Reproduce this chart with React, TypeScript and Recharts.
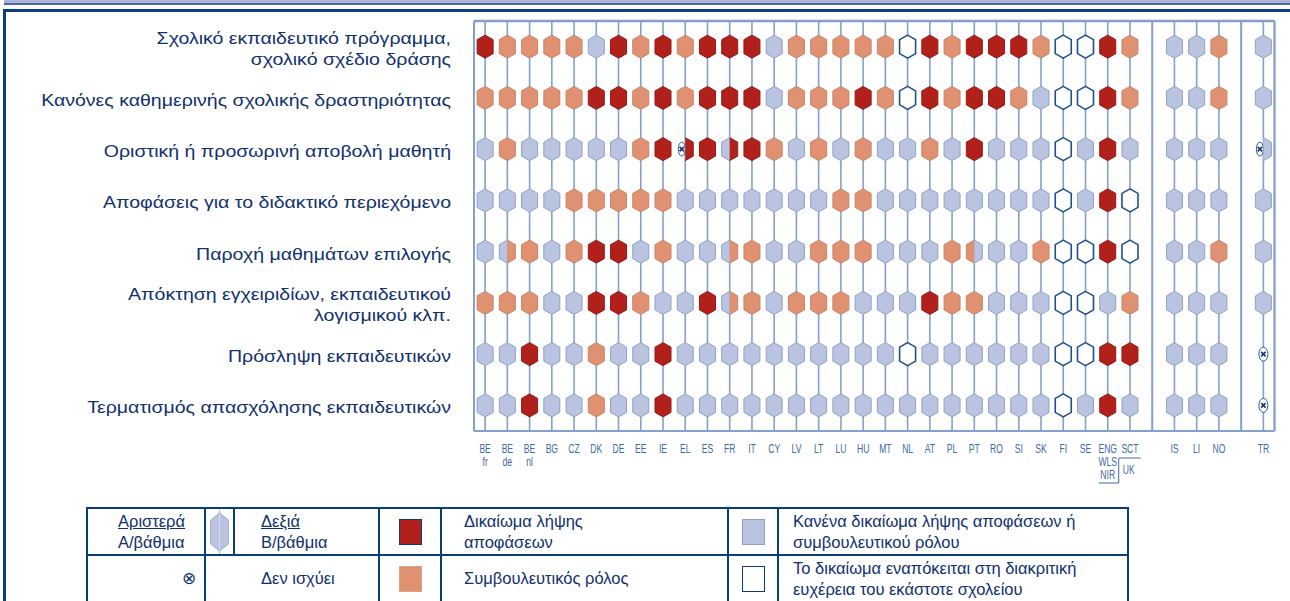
import React from "react";
import {
  ScatterChart,
  Scatter,
  XAxis,
  YAxis,
  CartesianGrid,
  ReferenceLine,
} from "recharts";

// x slots: "" marks the empty gap columns between country groups
const countries = [
  "BE fr", "BE de", "BE nl", "BG", "CZ", "DK", "DE", "EE", "IE", "EL",
  "ES", "FR", "IT", "CY", "LV", "LT", "LU", "HU", "MT", "NL",
  "AT", "PL", "PT", "RO", "SI", "SK", "FI", "SE", "ENG", "SCT",
  "", "IS", "LI", "NO", "", "TR",
];

const rowLabels = [
  ["Σχολικό εκπαιδευτικό πρόγραμμα,", "σχολικό σχέδιο δράσης"],
  ["Κανόνες καθημερινής σχολικής δραστηριότητας"],
  ["Οριστική ή προσωρινή αποβολή μαθητή"],
  ["Αποφάσεις για το διδακτικό περιεχόμενο"],
  ["Παροχή μαθημάτων επιλογής"],
  ["Απόκτηση εγχειριδίων, εκπαιδευτικού", "λογισμικού κλπ."],
  ["Πρόσληψη εκπαιδευτικών"],
  ["Τερματισμός απασχόλησης εκπαιδευτικών"],
];

// D = decision, A = advisory, N = none, S = school discretion, X = not applicable
// "L|R" -> left half (primary) | right half (secondary)
const curriculum = ["D","A","A","A","A","N","D","A","D","A","D","D","D","N","A","A","A","A","A","S","D","A","D","D","D","A","S","S","D","A","N","N","A","N"];
const dailyRules = ["A","A","A","A","A","D","D","A","D","A","D","D","D","N","A","A","A","D","A","S","D","A","D","D","A","N","S","S","D","A","N","N","A","N"];
const expulsion = ["N","A","N","N","N","N","N","A","D","X|D","D","N|D","D","A","N","A","N","A","N","N","A","N","D","N","N","N","S","N","D","N","N","N","N","X|N"];
const teachingContent = ["N","N","N","N","A","A","A","A","A","N","N","N","N","N","N","N","A","A","N","N","N","N","N","N","N","N","S","N","D","S","N","N","N","N"];
const optionalSubjects = ["N","N|A","A","N","A","D","D","N","A","N","N","N|A","A","N","N","A","A","A","N","N","N","A","A|N","N","N","A","S","S","D","S","N","N","A","N"];
const textbooks = ["A","A","A","N","N","D","D","A","N","N","D","N|A","A","N","A","A","A","N","N","N","D","A","A","N","N","N","S","S","N","A","N","N","N","N"];
const teacherHiring = ["N","N","D","N","N","A","N","N","D","N","N","N","N","N","N","N","N","N","N","S","N","N","N","N","N","N","S","S","D","D","N","N","N","X"];
const teacherDismissal = ["N","N","D","N","N","A","N","N","D","N","N","N","N","N","N","N","N","N","N","N","N","N","N","N","N","N","S","N","D","N","N","N","N","X"];

const rows = [curriculum, dailyRules, expulsion, teachingContent, optionalSubjects, textbooks, teacherHiring, teacherDismissal];

const FILL: Record<string, string> = { D: "#b1201b", A: "#df9171", N: "#bac3df", S: "#ffffff" };
const EDGE: Record<string, string> = { D: "#951a16", A: "#c98466", N: "#8ea2c9", S: "#1e4f92" };
const NAVY = "#0c3d7b";
const GRID = "#85a0c8";
const TEXT = "#10306f";
const TICK = "#4268a8";

const slots = countries.map((c, i) => ({ c, x: i + 0.5 })).filter((s) => s.c !== "");
const gaps = countries.map((c, i) => ({ c, x: i + 0.5 })).filter((s) => s.c === "");

const points = rows.flatMap((codes, r) =>
  slots.map((s, k) => ({ x: s.x, y: r + 0.5, code: codes[k] }))
);

function NaMark({ cx, cy, rx }: { cx: number; cy: number; rx: number }) {
  return (
    <g>
      <ellipse cx={cx} cy={cy} rx={rx} ry={7} fill="#fff" stroke="#2b5a9c" strokeWidth={1} />
      <path
        d={`M${cx - 2.2},${cy - 2.2}L${cx + 2.2},${cy + 2.2}M${cx + 2.2},${cy - 2.2}L${cx - 2.2},${cy + 2.2}`}
        stroke="#16336e"
        strokeWidth={1.6}
      />
    </g>
  );
}

function Hexagon(props: any) {
  const { cx, cy, payload } = props;
  const w = 8, h = 11.5, t = 4.5;
  const parts = String(payload.code).split("|");
  const left = parts[0];
  const right = parts[1] ?? parts[0];
  const half = (dir: number) =>
    `${cx},${cy - h} ${cx + dir * w},${cy - h + t} ${cx + dir * w},${cy + h - t} ${cx},${cy + h}`;
  const full = `${cx},${cy - h} ${cx + w},${cy - h + t} ${cx + w},${cy + h - t} ${cx},${cy + h} ${cx - w},${cy + h - t} ${cx - w},${cy - h + t}`;

  if (left === "X" && right === "X") return <NaMark cx={cx} cy={cy} rx={4.5} />;
  if (left === right) {
    return (
      <polygon
        points={full}
        fill={FILL[left]}
        stroke={EDGE[left]}
        strokeWidth={left === "S" ? 1.6 : 1}
      />
    );
  }
  return (
    <g>
      {left === "X" ? (
        <NaMark cx={cx - 3.5} cy={cy} rx={3.5} />
      ) : (
        <>
          <polygon points={half(-1)} fill={FILL[left]} />
          <polyline points={half(-1)} fill="none" stroke={EDGE[left]} strokeWidth={1} />
        </>
      )}
      <polygon points={half(1)} fill={FILL[right]} />
      <polyline points={half(1)} fill="none" stroke={EDGE[right]} strokeWidth={1} />
    </g>
  );
}

function RowTick(props: any) {
  const { x, y, payload } = props;
  const lines = rowLabels[Math.floor(payload.value)] ?? [];
  const lh = 21;
  const y0 = y + 2 - ((lines.length - 1) * lh) / 2;
  return (
    <text
      transform={`translate(${x},0) scale(1.15,1)`}
      textAnchor="end"
      fill={TEXT}
      fontSize={17}
      fontFamily="'Liberation Sans', Arial, sans-serif"
    >
      {lines.map((s, i) => (
        <tspan key={i} x={0} y={y0 + i * lh} dy="0.35em">
          {s}
        </tspan>
      ))}
    </text>
  );
}

function CountryTick(props: any) {
  const { x, y, payload } = props;
  const name = countries[Math.round(payload.value - 0.5)] ?? "";
  const [main, sub] = name.split(" ");
  const lbl = (s: string, dy: number, dx = 0) => (
    <text
      transform={`translate(${x + dx},${y + dy}) scale(0.66,1)`}
      textAnchor="middle"
      fill={TICK}
      fontSize={13}
      fontFamily="'Liberation Sans', Arial, sans-serif"
    >
      {s}
    </text>
  );
  return (
    <g>
      {lbl(main, 20)}
      {sub && lbl(sub, 33)}
      {main === "ENG" && (
        <g>
          {lbl("WLS", 33)}
          {lbl("NIR", 46)}
          {lbl("UK", 41, 21)}
          <path
            d={`M${x - 9},${y + 50}H${x + 11}V${y + 25}H${x + 33}`}
            fill="none"
            stroke={TICK}
            strokeWidth={1}
          />
        </g>
      )}
    </g>
  );
}

function LegendHex() {
  return (
    <svg width={27} height={44} style={{ display: "block", margin: "0 auto" }}>
      <line x1={13.5} y1={0} x2={13.5} y2={44} stroke="#9fb1d6" strokeWidth={1} />
      <polygon points="13.5,3 22.5,10 22.5,34 13.5,41 4.5,34 4.5,10" fill="#bac3df" stroke="#9fb1d6" strokeWidth={1} />
      <line x1={13.5} y1={3} x2={13.5} y2={41} stroke="#d6dcee" strokeWidth={1} />
    </svg>
  );
}

function Swatch({ fill, edge }: { fill: string; edge: string }) {
  return (
    <div style={{ width: 21, height: 24, background: fill, border: `1.5px solid ${edge}`, margin: "0 auto" }} />
  );
}

const cell: React.CSSProperties = {
  border: `2px solid ${NAVY}`,
  padding: 0,
  verticalAlign: "middle",
  color: TEXT,
  fontSize: 16.5,
  lineHeight: "21px",
  whiteSpace: "nowrap",
};

export default function App() {
  const xTicks = slots.map((s) => s.x);
  return (
    <div
      style={{
        position: "absolute",
        left: 0,
        top: 0,
        width: 1290,
        height: 601,
        overflow: "hidden",
        background: "#fff",
        fontFamily: "'Liberation Sans', Arial, sans-serif",
      }}
    >
      <div style={{ position: "absolute", left: 4, top: 0, width: 1286, height: 3, background: "#aab4d7" }} />
      <div style={{ position: "absolute", left: 4, top: 3, width: 1286, height: 2, background: "#4f67a5" }} />
      <div
        style={{
          position: "absolute",
          left: 3,
          top: 9,
          width: 1300,
          height: 700,
          borderLeft: `3px solid ${NAVY}`,
          borderTop: `3px solid ${NAVY}`,
        }}
      />

      <div style={{ position: "absolute", left: 0, top: 0 }}>
        <ScatterChart width={1290} height={601} margin={{ top: 21, right: 15.5, bottom: 110, left: 0 }}>
          <CartesianGrid
            yAxisId="rows"
            stroke={GRID}
            strokeWidth={1.6}
            strokeDasharray=""
          />
          <XAxis
            type="number"
            dataKey="x"
            domain={[0, countries.length]}
            ticks={xTicks}
            interval={0}
            axisLine={false}
            tickLine={false}
            tickSize={0}
            height={60}
            tick={<CountryTick />}
          />
          <YAxis
            type="number"
            dataKey="y"
            domain={[0, rows.length]}
            reversed
            ticks={rows.map((_, i) => i + 0.5)}
            interval={0}
            axisLine={false}
            tickLine={false}
            tickSize={0}
            tickMargin={23}
            width={474}
            tick={<RowTick />}
          />
          <YAxis
            yAxisId="rows"
            orientation="right"
            type="number"
            domain={[0, rows.length]}
            reversed
            ticks={rows.map((_, i) => i).concat(rows.length)}
            interval={0}
            width={0}
            axisLine={false}
            tickLine={false}
            tick={false}
          />
          <ReferenceLine x={0} stroke={GRID} strokeWidth={2} />
          <ReferenceLine x={countries.length} stroke={GRID} strokeWidth={2} />
          {gaps.map((g) => (
            <ReferenceLine key={g.x} x={g.x} stroke={GRID} strokeWidth={2} />
          ))}
          <ReferenceLine y={0} stroke={GRID} strokeWidth={2.5} />
          <ReferenceLine y={rows.length} stroke={GRID} strokeWidth={2} />
          <Scatter data={points} shape={<Hexagon />} isAnimationActive={false} />
        </ScatterChart>
      </div>

      <table
        style={{
          position: "absolute",
          left: 86,
          top: 507,
          borderCollapse: "collapse",
          tableLayout: "fixed",
          width: 1041,
        }}
      >
        <colgroup>
          <col style={{ width: 118 }} />
          <col style={{ width: 29 }} />
          <col style={{ width: 145 }} />
          <col style={{ width: 62 }} />
          <col style={{ width: 287 }} />
          <col style={{ width: 50 }} />
          <col style={{ width: 350 }} />
        </colgroup>
        <tbody>
          <tr style={{ height: 47 }}>
            <td style={{ ...cell, paddingLeft: 30 }}>
              <u>Αριστερά</u>
              <br />
              Α/βάθμια
            </td>
            <td style={cell}>
              <LegendHex />
            </td>
            <td style={{ ...cell, paddingLeft: 26 }}>
              <u>Δεξιά</u>
              <br />
              Β/βάθμια
            </td>
            <td style={cell}>
              <Swatch fill={FILL.D} edge={NAVY} />
            </td>
            <td style={{ ...cell, paddingLeft: 22 }}>
              Δικαίωμα λήψης
              <br />
              αποφάσεων
            </td>
            <td style={cell}>
              <Swatch fill={FILL.N} edge="#8ea2c9" />
            </td>
            <td style={{ ...cell, paddingLeft: 14 }}>
              Κανένα δικαίωμα λήψης αποφάσεων ή
              <br />
              συμβουλευτικού ρόλου
            </td>
          </tr>
          <tr style={{ height: 47 }}>
            <td style={{ ...cell, textAlign: "right", paddingRight: 8 }}>⊗</td>
            <td colSpan={2} style={{ ...cell, paddingLeft: 55 }}>
              Δεν ισχύει
            </td>
            <td style={cell}>
              <Swatch fill={FILL.A} edge="#d9a48c" />
            </td>
            <td style={{ ...cell, paddingLeft: 22 }}>Συμβουλευτικός ρόλος</td>
            <td style={cell}>
              <Swatch fill="#fff" edge={NAVY} />
            </td>
            <td style={{ ...cell, paddingLeft: 14 }}>
              Το δικαίωμα εναπόκειται στη διακριτική
              <br />
              ευχέρεια του εκάστοτε σχολείου
            </td>
          </tr>
        </tbody>
      </table>
    </div>
  );
}
